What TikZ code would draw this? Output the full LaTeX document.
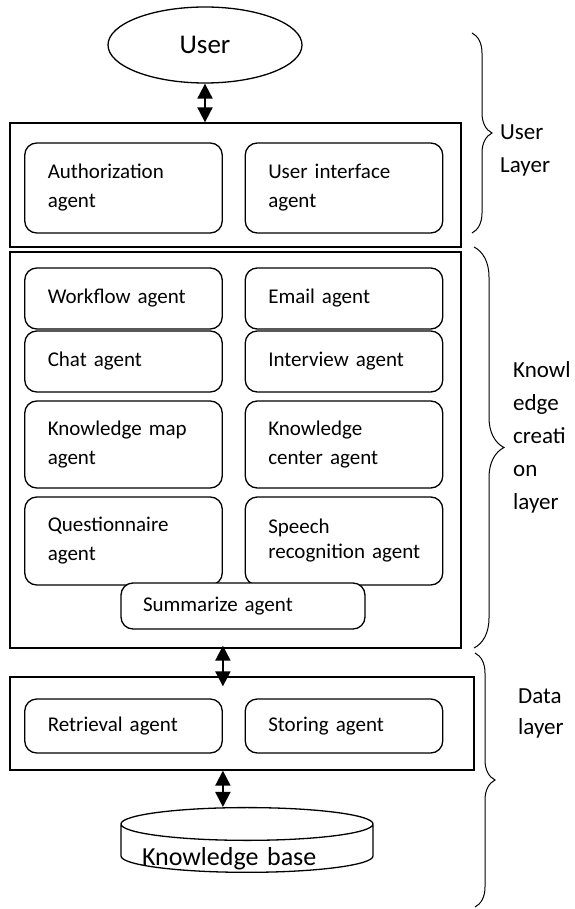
\documentclass[tikz,border=0pt]{standalone}
\usepackage{fontspec}
\setmainfont{Carlito}
\usetikzlibrary{shapes.geometric,arrows.meta,decorations.pathreplacing}

\begin{document}
\begin{tikzpicture}[x=1pt,y=-1pt,
  agent/.style={draw,line width=1.3pt,rounded corners=12pt,fill=white,inner xsep=23pt,inner ysep=0pt,text width=151.5pt,minimum height=#1,align=left,font=\fontsize{21}{29}\selectfont},
  layerbox/.style={draw,line width=1.3pt,inner sep=0pt},
  link/.style={line width=2pt,{Triangle[length=15pt,width=15pt]}-{Triangle[length=15pt,width=15pt]}},
  curly/.style={decorate,decoration={brace,amplitude=#1},line width=1pt},
  tag/.style={anchor=north west,inner sep=0pt,align=left,font=\fontsize{23}{33}\selectfont}]
\useasboundingbox (0,0) rectangle (574,909);
\node[layerbox,minimum width=451pt,minimum height=124pt] (ulayer) at (235.5,185) {};
\node[layerbox,minimum width=451pt,minimum height=396pt] (klayer) at (235.5,450) {};
\node[layerbox,minimum width=464pt,minimum height=93pt] (dlayer) at (242,723.5) {};
\node[draw,ellipse,line width=1.3pt,minimum width=194pt,minimum height=76pt,font=\fontsize{27}{32}\selectfont] (user) at (205,45) {User};
\node[agent=90pt] (auth) at (123.5,188) {Authorization\\agent};
\node[agent=90pt] (uiag) at (344,188) {User interface\\agent};
\node[agent=61pt] (workflow) at (123.5,298.5) {Workflow agent};
\node[agent=61pt] (email) at (344,298.5) {Email agent};
\node[agent=61pt] (chat) at (123.5,361.5) {Chat agent};
\node[agent=61pt] (interview) at (344,361.5) {Interview agent};
\node[agent=87pt] (kmap) at (123.5,444.5) {Knowledge map\\agent};
\node[agent=87pt] (kcenter) at (344,444.5) {Knowledge\\center agent};
\node[agent=88pt] (quest) at (123.5,541) {Questionnaire\\agent};
\node[agent=88pt,font=\fontsize{21}{25}\selectfont] (speech) at (344,541) {Speech\\\mbox{recognition agent}};
\node[agent=46pt,text width=200pt,inner xsep=22pt] (summ) at (243,606) {Summarize agent};
\node[agent=54pt] (retrieval) at (123.5,726) {Retrieval agent};
\node[agent=54pt] (storing) at (344,726) {Storing agent};
\node[draw,cylinder,shape border rotate=90,aspect=0.13,line width=1.3pt,minimum width=252pt,minimum height=60pt,inner xsep=21pt,inner ysep=0pt,text width=210pt,text height=24pt,text depth=0pt,align=left,font=\fontsize{26}{30}\selectfont] (kbase) at (247,853) {Knowledge base};
\draw[link] (user.south) -- (user.south |- ulayer.north);
\draw[link,shorten <=-3pt,shorten >=-10pt] (klayer.south -| retrieval.east) -- (dlayer.north -| retrieval.east);
\draw[link] (dlayer.south -| retrieval.east) -- (kbase.north -| retrieval.east);
\draw[curly=20pt] (472,33) -- (472,233);
\draw[curly=30pt] (474,247) -- (474,648);
\draw[curly=20pt] (475,653) -- (475,907);
\node[tag] (ulabel) at (500,125) {User\\Layer};
\node[tag] (klabel) at (513,361) {Knowl\\edge\\creati\\on\\layer};
\node[tag,font=\fontsize{23}{31}\selectfont] (dlabel) at (518,689) {Data\\layer};
\end{tikzpicture}
\end{document}
